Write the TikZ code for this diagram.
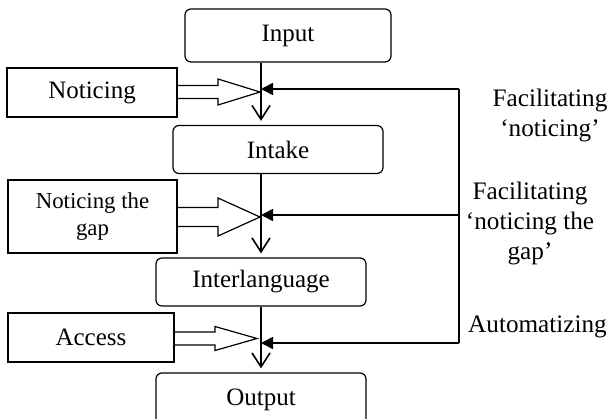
\documentclass[tikz,border=0pt]{standalone}
\usepackage{fontspec}
\setmainfont{Liberation Serif}
\usepackage{tikz}
\usetikzlibrary{arrows.meta,calc}
\tikzstyle{block} = [rectangle, draw, line width=0.6pt, rounded corners=3pt,
    minimum width=105pt, minimum height=24pt, inner sep=0pt, font=\fontsize{12.5}{15}\selectfont]
\tikzstyle{side} = [rectangle, draw, line width=0.6pt, minimum width=85pt,
    minimum height=24.5pt, inner sep=0pt, align=center, font=\fontsize{12.5}{15}\selectfont]
\tikzstyle{tag} = [align=center, inner sep=0pt, font=\fontsize{12.6}{15}\selectfont]
\tikzstyle{line} = [draw, line width=0.8pt]
\tikzstyle{down} = [line, shorten >=2pt, -{Straight Barb[length=7pt,width=9pt]}]
\tikzstyle{back} = [line, -{Triangle[length=6pt,width=6pt]}]
\tikzstyle{hollow} = [draw, line width=0.6pt, line join=miter]
% box, tip, shaft half width, head half width
\newcommand{\hollowarrow}[4]{%
  \draw[hollow] ($(#1.east|-#2)+(0,#3)$) -| ($(#2)+(-42,#4)$) -- (#2)
    -- ($(#2)+(-42,-#4)$) |- ($(#1.east|-#2)+(0,-#3)$);}

\begin{document}
\begin{tikzpicture}[x=0.5pt, y=-0.5pt]
  \clip (0,0) rectangle (610,418);
  % nodes
  \node [block, minimum width=103pt, minimum height=26.5pt] (input) at (288,35.5) {Input};
  \node [block] (intake) at (278,149.5) {Intake};
  \node [block] (inter) at (261,282) {Interlanguage};
  \node [block, minimum height=27pt] (output) at (261,400) {Output};
  \node [side] (notice) at (92,92.5) {Noticing};
  \node [side, minimum width=84.5pt, minimum height=36.5pt,
         font=\fontsize{11.4}{13.5}\selectfont] (gap) at (92.5,216.5) {Noticing the\\gap};
  \node [side, minimum width=83pt] (access) at (91,337.5) {Access};
  \node [tag] (facnot) at (550,115) {Facilitating\\`noticing'};
  \node [tag] (facgap) at (530,223) {Facilitating\\`noticing the\\gap'};
  \node [tag] (auto) at (537.5,327) {Automatizing};
  % junctions
  \coordinate (j1) at (261,89);
  \coordinate (j2) at (261,215);
  \coordinate (j3) at (261,343);
  \coordinate (r1) at (459,89);
  \coordinate (r2) at (459,215);
  \coordinate (r3) at (459,343);
  \coordinate (t1) at (260,92);
  \coordinate (t2) at (260,217);
  \coordinate (t3) at (257,338.5);
  % edges
  \path [down] (input.south -| j1) -- (intake.north -| j1);
  \path [down] (intake.south -| j2) -- (inter.north -| j2);
  \path [down] (inter.south -| j3) -- (output.north -| j3);
  \path [line] (r3) -- (r1);
  \path [back] (r1) -- (j1);
  \path [back] (r2) -- (j2);
  \path [back] (r3) -- (j3);
  \hollowarrow{notice}{t1}{6.5}{13}
  \hollowarrow{gap}{t2}{9.5}{19}
  \hollowarrow{access}{t3}{6.5}{12}
\end{tikzpicture}
\end{document}
